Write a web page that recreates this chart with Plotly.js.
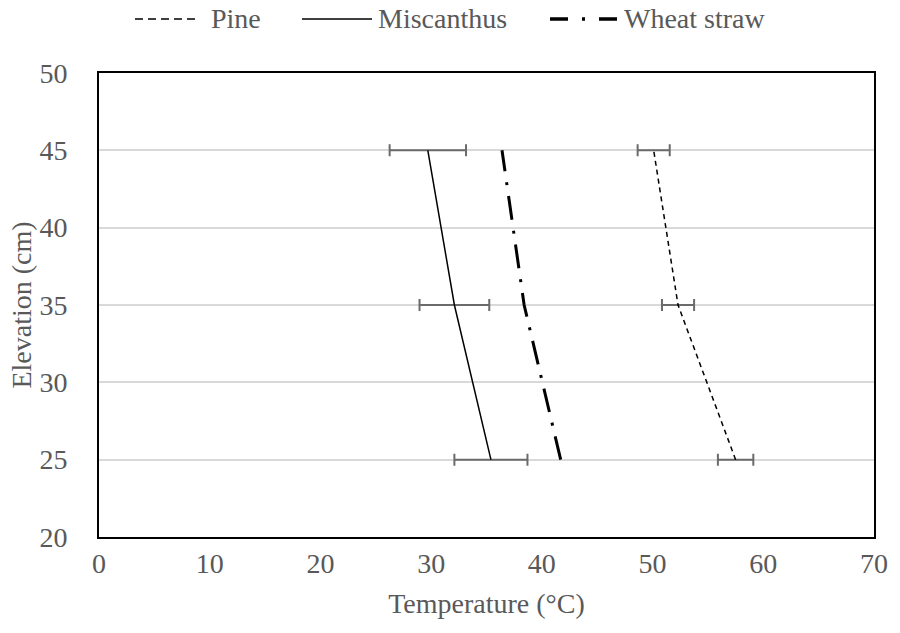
<!DOCTYPE html>
<html>
<head>
<meta charset="utf-8">
<script src="https://cdn.plot.ly/plotly-3.0.1.min.js"></script>
<style>html,body{margin:0;padding:0;background:#fff;}#chart{width:900px;height:633px;}</style>
</head>
<body>
<div id="chart"></div>
<script>
const elevations = [25, 35, 45];
const pineTemp = [57.5, 52.3, 50.1];
const pineErr = [1.6, 1.45, 1.45];
const miscanthusTemp = [35.4, 32.1, 29.7];
const miscanthusErr = [3.3, 3.15, 3.45];
const wheatTemp = [41.7, 38.4, 36.4];
const seriesNames = ['Pine', 'Miscanthus', 'Wheat straw'];
const xTicks = [0, 10, 20, 30, 40, 50, 60, 70];
const yTicks = [20, 25, 30, 35, 40, 45, 50];

const W = 900, H = 633;
const M = {l: 99, r: 26, t: 73, b: 96};
const plotW = W - M.l - M.r, plotH = H - M.t - M.b;
const px2paperX = p => (p - M.l) / plotW;
const px2paperY = p => (H - M.b - p) / plotH;

const errStyle = {type: 'data', visible: true, color: '#6b6b6b', thickness: 2, width: 6};
const lineStyles = [
  {color: '#000', width: 1.5, dash: '5px,4px'},
  {color: '#000', width: 1.5},
  {color: '#000', width: 3, dash: '24px,11px,3px,11px'}
];

const traces = [
  {name: seriesNames[0], x: pineTemp, y: elevations, mode: 'lines', type: 'scatter',
   line: lineStyles[0], error_x: Object.assign({array: pineErr}, errStyle)},
  {name: seriesNames[1], x: miscanthusTemp, y: elevations, mode: 'lines', type: 'scatter',
   line: lineStyles[1], error_x: Object.assign({array: miscanthusErr}, errStyle)},
  {name: seriesNames[2], x: wheatTemp, y: elevations, mode: 'lines', type: 'scatter',
   line: lineStyles[2]}
];

const font = {family: '"Liberation Serif", "Times New Roman", serif', size: 28, color: '#595959'};

// Manual legend (long line samples like the original)
const legendY = 19;
const legendSamples = [
  {x0: 135, x1: 198, line: {color: '#000', width: 1.5, dash: '8px,5px'}, tx: 209},
  {x0: 302, x1: 372, line: {color: '#000', width: 1.5}, tx: 376},
  {x0: 550, x1: 619, line: {color: '#000', width: 3.5, dash: '18px,14px,3px,14px,18px'}, tx: 622}
];
const shapes = legendSamples.map(s => ({
  type: 'line', xref: 'paper', yref: 'paper',
  x0: px2paperX(s.x0), x1: px2paperX(s.x1),
  y0: px2paperY(legendY), y1: px2paperY(legendY), line: s.line
}));
const annotations = legendSamples.map((s, i) => ({
  text: seriesNames[i], xref: 'paper', yref: 'paper',
  x: px2paperX(s.tx), y: px2paperY(legendY), xanchor: 'left', yanchor: 'middle',
  showarrow: false, font: font
}));

const layout = {
  width: W, height: H,
  margin: M,
  paper_bgcolor: '#fff', plot_bgcolor: '#fff',
  font: font,
  showlegend: false,
  shapes: shapes,
  annotations: annotations,
  xaxis: {range: [0, 70], tickvals: xTicks, ticktext: xTicks.map(String),
          showgrid: false, zeroline: false, showline: true, mirror: true,
          linecolor: '#000', linewidth: 2, ticks: '', ticklabelstandoff: 0,
          tickfont: font, automargin: false,
          title: {text: 'Temperature (°C)', font: font, standoff: 16}},
  yaxis: {range: [20, 50], tickvals: yTicks, ticktext: yTicks.map(String),
          showgrid: true, gridcolor: '#d9d9d9', gridwidth: 2, zeroline: false,
          showline: true, mirror: true, linecolor: '#000', linewidth: 2,
          ticks: '', ticklabelstandoff: 24, tickfont: font, automargin: false,
          title: {text: 'Elevation (cm)', font: font, standoff: 0}}
};

Plotly.newPlot('chart', traces, layout, {displayModeBar: false, staticPlot: true});
</script>
</body>
</html>
